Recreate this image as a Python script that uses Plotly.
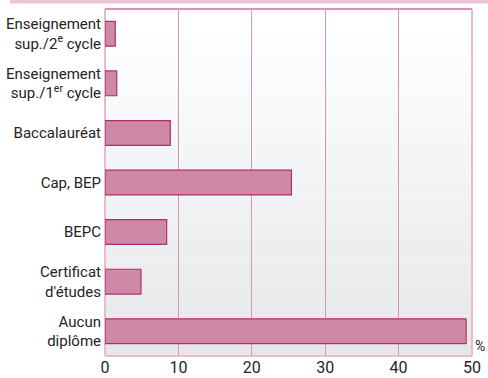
import plotly.graph_objects as go

# Diplôme le plus élevé obtenu (%)
categories = [
    "Enseignement<br>sup./2<sup>e</sup> cycle",
    "Enseignement<br>sup./1<sup>er</sup> cycle",
    "Baccalauréat",
    "Cap, BEP",
    "BEPC",
    "Certificat<br>d'études",
    "Aucun<br>diplôme",
]
values = [1.4, 1.6, 8.9, 25.4, 8.4, 4.9, 49.2]
x_ticks = [0, 10, 20, 30, 40, 50]

FONT = "Roboto, Liberation Sans, sans-serif"
BAR_FILL = "#ce89a6"
BAR_LINE = "#b32f6c"
GRID = "#d894b1"
EDGE = "#e6bcce"

fig = go.Figure(
    go.Bar(
        x=values,
        y=categories,
        orientation="h",
        width=0.5,
        marker=dict(color=BAR_FILL, line=dict(color=BAR_LINE, width=1.2)),
        hoverinfo="x+y",
    )
)

shapes = []
# vertical gradient of the plotting area, white at the top to light grey
n = 60
for i in range(n):
    t = i / (n - 1)
    c = int(round(255 - t * (255 - 229)))
    shapes.append(dict(
        type="rect", xref="x domain", yref="y domain",
        x0=0, x1=1, y0=1 - (i + 1) / n, y1=1 - i / n,
        fillcolor=f"rgb({c},{min(c + 1, 255)},{min(c + 2, 255)})",
        line=dict(width=0), layer="below",
    ))
# frame of the plotting area
shapes += [
    dict(type="line", xref="x domain", yref="y domain", x0=0, x1=0, y0=0, y1=1,
         line=dict(color=EDGE, width=2), layer="below"),
    dict(type="line", xref="x domain", yref="y domain", x0=1, x1=1, y0=0, y1=1,
         line=dict(color=EDGE, width=2), layer="below"),
    dict(type="line", xref="x domain", yref="y domain", x0=0, x1=1, y0=0, y1=0,
         line=dict(color=EDGE, width=2), layer="below"),
    dict(type="line", xref="x domain", yref="y domain", x0=0, x1=1, y0=1, y1=1,
         line=dict(color=GRID, width=2), layer="below"),
    # pink header band
    dict(type="rect", xref="paper", yref="paper", x0=-0.259, x1=1.05,
         y0=1.0159, y1=1.03, fillcolor="#e9c4d4", line=dict(width=0)),
]

fig.update_layout(
    width=488,
    height=378,
    margin=dict(l=105, r=16, t=9, b=22, autoexpand=False),
    paper_bgcolor="white",
    plot_bgcolor="rgba(0,0,0,0)",
    showlegend=False,
    bargap=0.5,
    font=dict(family=FONT, size=15, color="#262324"),
    shapes=shapes,
    xaxis=dict(
        range=[0, 50],
        tickvals=x_ticks,
        ticktext=[str(v) for v in x_ticks],
        showgrid=True,
        gridcolor=GRID,
        gridwidth=1,
        zeroline=False,
        showline=False,
        ticks="",
        automargin=False,
        fixedrange=True,
        tickfont=dict(family=FONT, size=16, color="#262324"),
    ),
    yaxis=dict(
        categoryorder="array",
        categoryarray=categories,
        autorange="reversed",
        showgrid=False,
        zeroline=False,
        showline=False,
        ticks="",
        ticklabelstandoff=3,
        automargin=False,
        fixedrange=True,
        tickfont=dict(family=FONT, size=15, color="#262324"),
    ),
    annotations=[
        dict(text="%", xref="paper", yref="paper", x=1.002, y=0.0,
             xanchor="left", yanchor="bottom", showarrow=False,
             font=dict(family=FONT, size=14, color="#262324")),
    ],
)

fig.write_html("out.html")
